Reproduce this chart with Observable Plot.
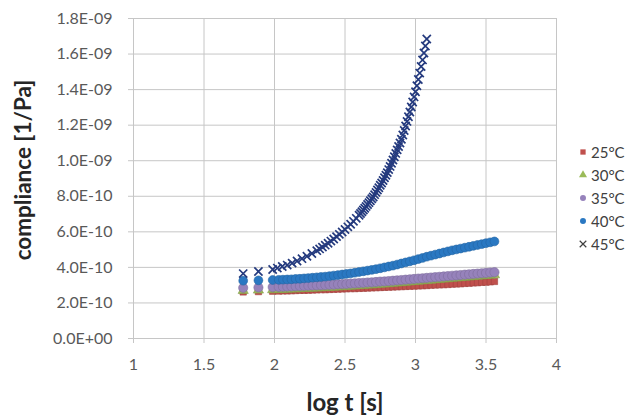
<!DOCTYPE html>
<html><head><meta charset="utf-8">
<script src="https://cdn.jsdelivr.net/npm/d3@7"></script>
<script src="https://cdn.jsdelivr.net/npm/@observablehq/plot@0.6"></script>
<style>
body{margin:0;background:#fff;}
#wrap{position:relative;width:640px;height:420px;font-family:Lato,sans-serif;}
#ytitle{position:absolute;left:22px;top:170px;transform:translate(-50%,-50%) rotate(-90deg);font-weight:bold;font-size:22.5px;color:#262626;white-space:nowrap;}
#xtitle{position:absolute;left:345px;top:401px;transform:translate(-50%,-50%);font-weight:bold;font-size:24px;color:#262626;white-space:nowrap;}
#legend{position:absolute;left:578px;top:141px;font-size:15px;color:#404040;}
.row{height:22.8px;display:flex;align-items:center;}
.row svg{margin-right:3px;}
</style></head><body><div id="wrap"></div>
<script>
const logT = [1.778, 1.886, 1.987, 2.03, 2.06, 2.09, 2.12, 2.15, 2.18, 2.21, 2.24, 2.27, 2.30, 2.33, 2.36, 2.39, 2.42, 2.45, 2.48, 2.51, 2.54, 2.57, 2.60, 2.63, 2.66, 2.69, 2.72, 2.75, 2.78, 2.81, 2.84, 2.87, 2.90, 2.93, 2.96, 2.99, 3.02, 3.05, 3.08, 3.11, 3.14, 3.17, 3.20, 3.23, 3.26, 3.29, 3.32, 3.35, 3.38, 3.41, 3.44, 3.47, 3.50, 3.53, 3.56];
// compliance in units of 1E-10 1/Pa
const c25 = [2.62, 2.64, 2.66, 2.67, 2.68, 2.68, 2.69, 2.70, 2.71, 2.71, 2.72, 2.73, 2.74, 2.75, 2.75, 2.76, 2.77, 2.78, 2.79, 2.80, 2.81, 2.81, 2.82, 2.83, 2.84, 2.85, 2.86, 2.87, 2.88, 2.89, 2.90, 2.91, 2.92, 2.93, 2.94, 2.95, 2.96, 2.97, 2.98, 3.00, 3.01, 3.02, 3.03, 3.04, 3.06, 3.07, 3.08, 3.10, 3.11, 3.13, 3.14, 3.16, 3.17, 3.19, 3.21];
const c30 = [2.70, 2.72, 2.74, 2.75, 2.76, 2.77, 2.78, 2.79, 2.80, 2.81, 2.82, 2.83, 2.84, 2.85, 2.86, 2.87, 2.88, 2.90, 2.91, 2.92, 2.94, 2.95, 2.97, 2.98, 3.00, 3.01, 3.03, 3.05, 3.06, 3.08, 3.10, 3.12, 3.14, 3.16, 3.18, 3.20, 3.22, 3.24, 3.26, 3.28, 3.30, 3.32, 3.34, 3.36, 3.38, 3.40, 3.42, 3.44, 3.46, 3.48, 3.50, 3.52, 3.54, 3.56, 3.58];
const c35 = [2.85, 2.87, 2.89, 2.90, 2.91, 2.92, 2.93, 2.94, 2.95, 2.96, 2.97, 2.98, 2.99, 3.00, 3.01, 3.02, 3.03, 3.05, 3.06, 3.07, 3.09, 3.10, 3.12, 3.13, 3.15, 3.16, 3.18, 3.20, 3.21, 3.23, 3.25, 3.27, 3.29, 3.31, 3.33, 3.35, 3.37, 3.39, 3.41, 3.43, 3.45, 3.47, 3.49, 3.51, 3.53, 3.55, 3.57, 3.59, 3.61, 3.63, 3.65, 3.67, 3.69, 3.71, 3.73];
const c40 = [3.25, 3.27, 3.29, 3.30, 3.31, 3.32, 3.33, 3.35, 3.36, 3.38, 3.40, 3.42, 3.44, 3.46, 3.48, 3.51, 3.54, 3.57, 3.60, 3.63, 3.66, 3.70, 3.74, 3.78, 3.82, 3.86, 3.90, 3.95, 4.00, 4.05, 4.10, 4.16, 4.22, 4.28, 4.34, 4.40, 4.47, 4.53, 4.60, 4.66, 4.72, 4.78, 4.84, 4.90, 4.96, 5.01, 5.06, 5.11, 5.16, 5.21, 5.26, 5.31, 5.36, 5.41, 5.46];
// 45°C is sampled more finely where the curve is steep
const logT45 = [1.778, 1.886, 1.987, 2.02, 2.055, 2.09, 2.125, 2.16, 2.195, 2.23, 2.265, 2.30, 2.32, 2.34, 2.36, 2.38, 2.40, 2.42, 2.44, 2.46, 2.48, 2.50, 2.52, 2.54, 2.56, 2.58, 2.60, 2.61, 2.62, 2.63, 2.64, 2.65, 2.66, 2.67, 2.68, 2.69, 2.70, 2.71, 2.72, 2.73, 2.74, 2.75, 2.76, 2.77, 2.78, 2.79, 2.80, 2.81, 2.82, 2.83, 2.84, 2.85, 2.86, 2.87, 2.88, 2.89, 2.90, 2.91, 2.92, 2.93, 2.94, 2.95, 2.96, 2.97, 2.98, 2.99, 3.00, 3.01, 3.02, 3.03, 3.04, 3.05, 3.06, 3.07, 3.08];
const c45 = [3.65, 3.77, 3.88, 3.96, 4.05, 4.13, 4.24, 4.36, 4.49, 4.63, 4.78, 4.94, 5.04, 5.14, 5.25, 5.36, 5.48, 5.60, 5.73, 5.86, 5.99, 6.13, 6.28, 6.43, 6.59, 6.76, 6.93, 7.03, 7.13, 7.23, 7.33, 7.43, 7.54, 7.64, 7.75, 7.86, 7.96, 8.09, 8.22, 8.35, 8.48, 8.62, 8.75, 8.89, 9.04, 9.18, 9.33, 9.50, 9.68, 9.86, 10.04, 10.22, 10.41, 10.61, 10.80, 11.00, 11.21, 11.45, 11.70, 11.95, 12.21, 12.47, 12.74, 13.02, 13.30, 13.59, 13.88, 14.22, 14.57, 14.93, 15.30, 15.67, 16.06, 16.45, 16.85];

const seriesNames = ["25°C", "30°C", "35°C", "40°C", "45°C"];
const seriesX = [logT, logT, logT, logT, logT45];
const seriesValues = [c25, c30, c35, c40, c45];
const seriesColors = ["#c0504d", "#9bbb59", "#9682bb", "#2a78c2", "#243a7e"];
const seriesSymbols = ["square", "triangle", "circle", "circle", "times"];
const seriesR = [3.6, 3.8, 4.6, 4.4, 3.8];

const xTicks = [1, 1.5, 2, 2.5, 3, 3.5, 4];
const yTicks = [0, 2e-10, 4e-10, 6e-10, 8e-10, 1e-9, 1.2e-9, 1.4e-9, 1.6e-9, 1.8e-9];
const yLabels = ["0.0E+00", "2.0E-10", "4.0E-10", "6.0E-10", "8.0E-10", "1.0E-09", "1.2E-09", "1.4E-09", "1.6E-09", "1.8E-09"];

const grid = "#c6c6c6";
const marks = [
  Plot.gridX({ticks: xTicks, stroke: grid, strokeOpacity: 1}),
  Plot.gridY({ticks: yTicks, stroke: grid, strokeOpacity: 1}),
  Plot.axisX({ticks: xTicks, tickSize: 5, color: grid, tickFormat: () => "", label: null}),
  Plot.axisY({ticks: yTicks, tickSize: 5, color: grid, tickFormat: () => "", label: null}),
  Plot.axisX({ticks: xTicks, tickSize: 0, tickPadding: 20, color: "#595959", fontSize: 16, tickFormat: d => String(d), label: null}),
  Plot.axisY({ticks: yTicks, tickSize: 0, tickPadding: 21, color: "#595959", fontSize: 16, tickFormat: d => yLabels[yTicks.indexOf(d)], label: null})
];
seriesNames.forEach((name, k) => {
  const vals = seriesValues[k];
  const xs = seriesX[k];
  const data = vals.map((v, i) => ({t: xs[i], c: v * 1e-10}));
  const sym = seriesSymbols[k];
  if (sym === "times") {
    marks.push(Plot.dot(data, {x: "t", y: "c", symbol: "times", stroke: seriesColors[k], strokeWidth: 1.7, r: seriesR[k]}));
  } else {
    marks.push(Plot.dot(data, {x: "t", y: "c", symbol: sym, fill: seriesColors[k], stroke: d3.color(seriesColors[k]).darker(0.5).formatHex(), strokeWidth: 0.6, r: seriesR[k]}));
  }
});

const chart = Plot.plot({
  width: 640, height: 420,
  marginLeft: 133, marginRight: 84, marginTop: 18, marginBottom: 82,
  style: {fontFamily: "Lato, sans-serif", fontSize: "16px", background: "#fff"},
  x: {domain: [1, 4]},
  y: {domain: [0, 1.8e-9]},
  marks
});
const wrap = document.getElementById("wrap");
wrap.appendChild(chart);

const yt = document.createElement("div"); yt.id = "ytitle"; yt.textContent = "compliance [1/Pa]"; wrap.appendChild(yt);
const xt = document.createElement("div"); xt.id = "xtitle"; xt.textContent = "log t [s]"; wrap.appendChild(xt);

const legend = document.createElement("div"); legend.id = "legend";
const symMap = {square: d3.symbolSquare, triangle: d3.symbolTriangle, circle: d3.symbolCircle, diamond: d3.symbolDiamond, times: d3.symbolTimes};
seriesNames.forEach((name, k) => {
  const row = document.createElement("div"); row.className = "row";
  const s = d3.create("svg").attr("width", 10).attr("height", 10);
  const path = s.append("path").attr("transform", "translate(5,5)")
    .attr("d", d3.symbol(symMap[seriesSymbols[k]], seriesSymbols[k] === "times" ? 30 : 28)());
  if (seriesSymbols[k] === "times") path.attr("fill", "none").attr("stroke", "#404040").attr("stroke-width", 1.2);
  else path.attr("fill", seriesColors[k]);
  row.appendChild(s.node());
  const sp = document.createElement("span"); sp.textContent = name; row.appendChild(sp);
  legend.appendChild(row);
});
wrap.appendChild(legend);
</script></body></html>
